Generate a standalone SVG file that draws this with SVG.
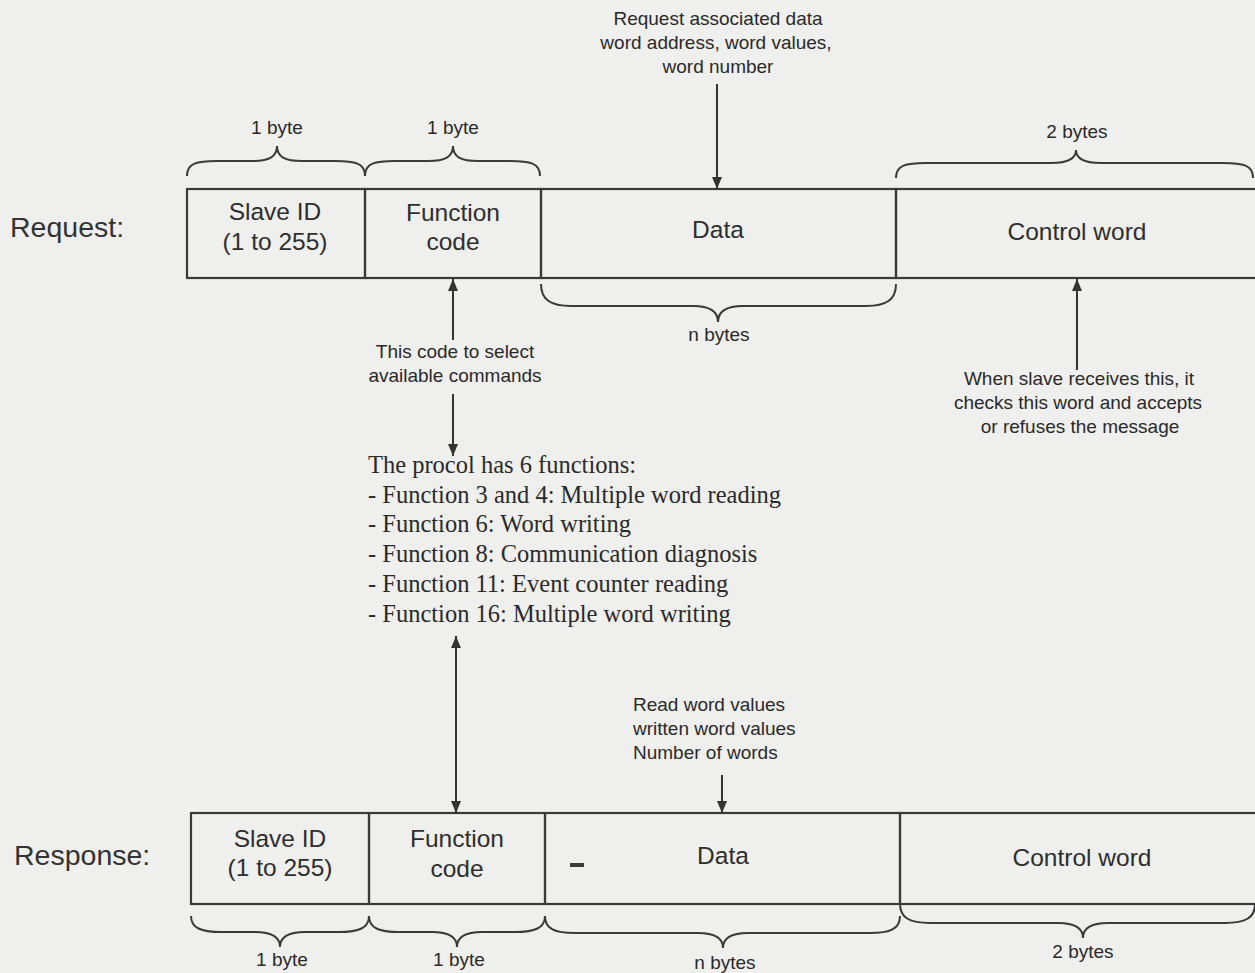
<svg xmlns="http://www.w3.org/2000/svg" width="1255" height="973" viewBox="0 0 1255 973">
<style>
.bg{fill:#efefed}
.cell{fill:none;stroke:#3a3a3a;stroke-width:2.2}
.brace{fill:none;stroke:#3a3a3a;stroke-width:2}
.conn{fill:none;stroke:#333;stroke-width:2}
.s{font-family:"Liberation Sans",Arial,sans-serif;font-size:19px;fill:#2a2a2a}
.m{font-family:"Liberation Sans",Arial,sans-serif;font-size:24.5px;fill:#2e2e2e}
.l{font-family:"Liberation Sans",Arial,sans-serif;font-size:28.5px;fill:#333}
.f{font-family:"Liberation Serif","Times New Roman",serif;font-size:24.5px;fill:#2a2a2a}
.c{text-anchor:middle}
</style>
<defs>
<marker id="ah" markerUnits="userSpaceOnUse" markerWidth="12" markerHeight="10" refX="12" refY="5" orient="auto-start-reverse">
<path d="M0,0 L12,5 L0,10 z" fill="#333"/>
</marker>
</defs>
<rect class="bg" x="0" y="0" width="1255" height="973"/>

<g id="row-labels">
<text class="l" x="10" y="237">Request:</text>
<text class="l" x="14" y="865">Response:</text>
</g>

<g id="req-slave">
<rect class="cell" x="187" y="189" width="178" height="89"/>
<text class="m c" x="275" y="220">Slave ID</text>
<text class="m c" x="275" y="250">(1 to 255)</text>
</g>
<g id="req-function">
<rect class="cell" x="365" y="189" width="176" height="89"/>
<text class="m c" x="453" y="221">Function</text>
<text class="m c" x="453" y="250">code</text>
</g>
<g id="req-data">
<rect class="cell" x="541" y="189" width="355" height="89"/>
<text class="m c" x="718" y="238">Data</text>
</g>
<g id="req-control">
<rect class="cell" x="896" y="189" width="370" height="89"/>
<text class="m c" x="1077" y="240">Control word</text>
</g>

<g id="resp-slave">
<rect class="cell" x="191" y="813" width="178" height="91"/>
<text class="m c" x="280" y="847">Slave ID</text>
<text class="m c" x="280" y="876">(1 to 255)</text>
</g>
<g id="resp-function">
<rect class="cell" x="369" y="813" width="176" height="91"/>
<text class="m c" x="457" y="847">Function</text>
<text class="m c" x="457" y="877">code</text>
</g>
<g id="resp-data">
<rect class="cell" x="545" y="813" width="355" height="91"/>
<rect x="570" y="863" width="14" height="4" fill="#3a3a3a"/>
<text class="m c" x="723" y="864">Data</text>
</g>
<g id="resp-control">
<rect class="cell" x="900" y="813" width="370" height="91"/>
<text class="m c" x="1082" y="866">Control word</text>
</g>

<g id="braces">
<path class="brace" d="M187,176 C187,163 197,161 217,161 L252,161 C269,161 277,157 277,146 C277,157 285,161 302,161 L335,161 C355,161 365,163 365,176"/>
<path class="brace" d="M365,176 C365,163 375,161 395,161 L428,161 C445,161 453,157 453,146 C453,157 461,161 478,161 L510,161 C530,161 540,163 540,176"/>
<path class="brace" d="M896,178 C896,165 906,163 926,163 L1051,163 C1068,163 1076,159 1076,150 C1076,159 1084,163 1101,163 L1223,163 C1243,163 1253,165 1253,178"/>
<path class="brace" d="M541,284 C541,300 551,306 571,306 L693,306 C710,306 718,311 718,322 C718,311 726,306 743,306 L866,306 C886,306 896,300 896,284"/>
<path class="brace" d="M191,916 C191,928 201,932 221,932 L255,932 C272,932 280,937 280,947 C280,937 288,932 305,932 L339,932 C359,932 369,928 369,916"/>
<path class="brace" d="M369,916 C369,928 379,932 399,932 L432,932 C449,932 457,937 457,947 C457,937 465,932 482,932 L515,932 C535,932 545,928 545,916"/>
<path class="brace" d="M545,916 C545,929 555,933 575,933 L698,933 C715,933 723,938 723,948 C723,938 731,933 748,933 L870,933 C890,933 900,929 900,916"/>
<path class="brace" d="M900,904 C900,918 910,923 930,923 L1058,923 C1075,923 1083,928 1083,938 C1083,928 1091,923 1108,923 L1225,923 C1245,923 1255,918 1255,904"/>
</g>

<g id="size-labels">
<text class="s c" x="277" y="134">1 byte</text>
<text class="s c" x="453" y="134">1 byte</text>
<text class="s c" x="1077" y="138">2 bytes</text>
<text class="s c" x="719" y="341">n bytes</text>
<text class="s c" x="282" y="966">1 byte</text>
<text class="s c" x="459" y="966">1 byte</text>
<text class="s c" x="725" y="969">n bytes</text>
<text class="s c" x="1083" y="958">2 bytes</text>
</g>

<g id="note-request-data">
<text class="s c" x="718" y="25">Request associated data</text>
<text class="s c" x="716" y="49">word address, word values,</text>
<text class="s c" x="718" y="73">word number</text>
</g>
<g id="note-function-code">
<text class="s c" x="455" y="358">This code to select</text>
<text class="s c" x="455" y="382">available commands</text>
</g>
<g id="note-control-word">
<text class="s c" x="1079" y="385">When slave receives this, it</text>
<text class="s c" x="1078" y="409">checks this word and accepts</text>
<text class="s c" x="1080" y="433">or refuses the message</text>
</g>
<g id="note-response-data">
<text class="s" x="633" y="711">Read word values</text>
<text class="s" x="633" y="735">written word values</text>
<text class="s" x="633" y="759">Number of words</text>
</g>
<g id="functions-list">
<text class="f" x="368" y="473">The procol has 6 functions:</text>
<text class="f" x="368" y="503">- Function 3 and 4: Multiple word reading</text>
<text class="f" x="368" y="532">- Function 6: Word writing</text>
<text class="f" x="368" y="562">- Function 8: Communication diagnosis</text>
<text class="f" x="368" y="592">- Function 11: Event counter reading</text>
<text class="f" x="368" y="622">- Function 16: Multiple word writing</text>
</g>

<g id="connectors">
<line class="conn" x1="717" y1="84" x2="717" y2="189" marker-end="url(#ah)"/>
<line class="conn" x1="453" y1="340" x2="453" y2="279" marker-end="url(#ah)"/>
<line class="conn" x1="453" y1="394" x2="453" y2="456" marker-end="url(#ah)"/>
<line class="conn" x1="456" y1="636" x2="456" y2="813" marker-start="url(#ah)" marker-end="url(#ah)"/>
<line class="conn" x1="1077" y1="370" x2="1077" y2="279" marker-end="url(#ah)"/>
<line class="conn" x1="722" y1="775" x2="722" y2="813" marker-end="url(#ah)"/>
</g>
</svg>
